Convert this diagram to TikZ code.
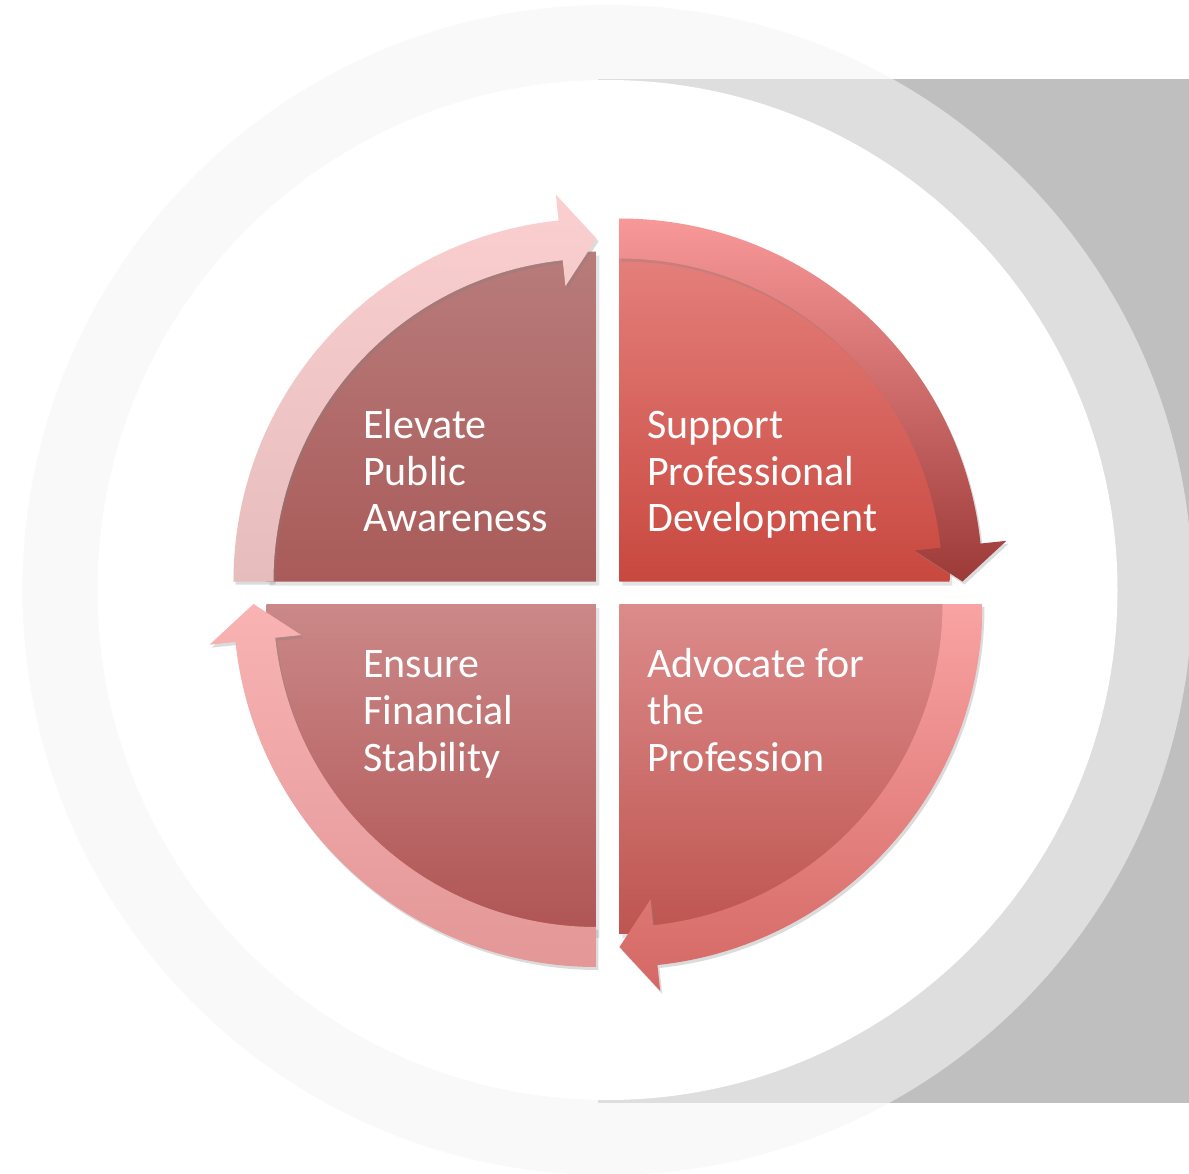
\documentclass[tikz,border=0pt]{standalone}
\usepackage{fontspec}
\setmainfont{Carlito}
\usetikzlibrary{shadows}
\definecolor{haze}{RGB}{245,245,245}
\definecolor{slab}{RGB}{191,191,191}
\definecolor{tlpietop}{HTML}{B87C7B}
\definecolor{tlpiebot}{HTML}{A95B59}
\definecolor{tlbandtop}{HTML}{FBCFD0}
\definecolor{tlbandbot}{HTML}{E6BCBC}
\definecolor{trpietop}{HTML}{E5807C}
\definecolor{trpiebot}{HTML}{C8483F}
\definecolor{trbandtop}{HTML}{F99898}
\definecolor{trbandmid}{HTML}{D97A78}
\definecolor{trbandbot}{HTML}{9B3A37}
\definecolor{brpietop}{HTML}{DC8B8B}
\definecolor{brpiebot}{HTML}{BE5550}
\definecolor{brbandtop}{HTML}{F9A3A3}
\definecolor{brbandbot}{HTML}{D46864}
\definecolor{blpietop}{HTML}{CB8888}
\definecolor{blpiebot}{HTML}{B05454}
\definecolor{blbandtop}{HTML}{F9B3B3}
\definecolor{blbandbot}{HTML}{E39797}
\tikzstyle{pie}=[drop shadow={shadow xshift=3pt, shadow yshift=-4pt, opacity=0.22}]
\tikzstyle{band}=[drop shadow={shadow xshift=2pt, shadow yshift=-3pt, opacity=0.28}]
\tikzstyle{lbl}=[text=white, align=left, anchor=base west, inner sep=0pt,
		font=\fontsize{42}{47}\selectfont]

\begin{document}
\begin{tikzpicture}[x=1pt, y=1pt]
            \useasboundingbox[fill=white] (-608,-580.5) rectangle (581,592.5);
            \fill[slab] (-10,513.5) rectangle (581,-510.5);
            \fill[haze, opacity=0.58] (-0.5,2.5) circle (585);
            \fill[white] (-0.5,2.5) circle (510);

            \begin{scope}[shift={(-11.5,11)}]
                \path[pie, top color=tlpietop, bottom color=tlpiebot] (0,0) -- (90:330) arc[start angle=90, end angle=180, radius=330] -- cycle;
                \path[band, top color=tlbandtop, bottom color=tlbandbot] (180:363) arc[start angle=180, end angle=96, radius=363] -- (96:389) -- (90:343) -- (96:297) -- (96:323) arc[start angle=96, end angle=180, radius=323] -- cycle;
            \end{scope}
            \begin{scope}[shift={(11.5,11)}]
                \path[pie, top color=trpietop, bottom color=trpiebot] (0,0) -- (0:330) arc[start angle=0, end angle=90, radius=330] -- cycle;
                \path[band, top color=trbandtop, middle color=trbandmid, bottom color=trbandbot] (90:363) arc[start angle=90, end angle=6, radius=363] -- (6:389) -- (0:343) -- (6:297) -- (6:323) arc[start angle=6, end angle=90, radius=323] -- cycle;
            \end{scope}
            \begin{scope}[shift={(11.5,-11.5)}]
                \path[pie, top color=brpietop, bottom color=brpiebot] (0,0) -- (0:330) arc[start angle=0, end angle=-90, radius=330] -- cycle;
                \path[band, top color=brbandtop, bottom color=brbandbot] (0:363) arc[start angle=0, end angle=-84, radius=363] -- (-84:389) -- (-90:343) -- (-84:297) -- (-84:323) arc[start angle=-84, end angle=0, radius=323] -- cycle;
            \end{scope}
            \begin{scope}[shift={(-11.5,-11.5)}]
                \path[pie, top color=blpietop, bottom color=blpiebot] (0,0) -- (-90:330) arc[start angle=-90, end angle=-180, radius=330] -- cycle;
                \path[band, top color=blbandtop, bottom color=blbandbot] (-90:363) arc[start angle=-90, end angle=-174, radius=363] -- (-174:389) -- (-180:343) -- (-174:297) -- (-174:323) arc[start angle=-174, end angle=-90, radius=323] -- cycle;
            \end{scope}

            \node[lbl] (elevate) at (-245,60.5) {Elevate\\Public\\Awareness};
            \node[lbl] (support) at (39,60.5) {Support\\Professional\\Development};
            \node[lbl] (ensure) at (-245,-178.5) {Ensure\\Financial\\Stability};
            \node[lbl] (advocate) at (39,-178.5) {Advocate for\\the\\Profession};
        \end{tikzpicture}
\end{document}
